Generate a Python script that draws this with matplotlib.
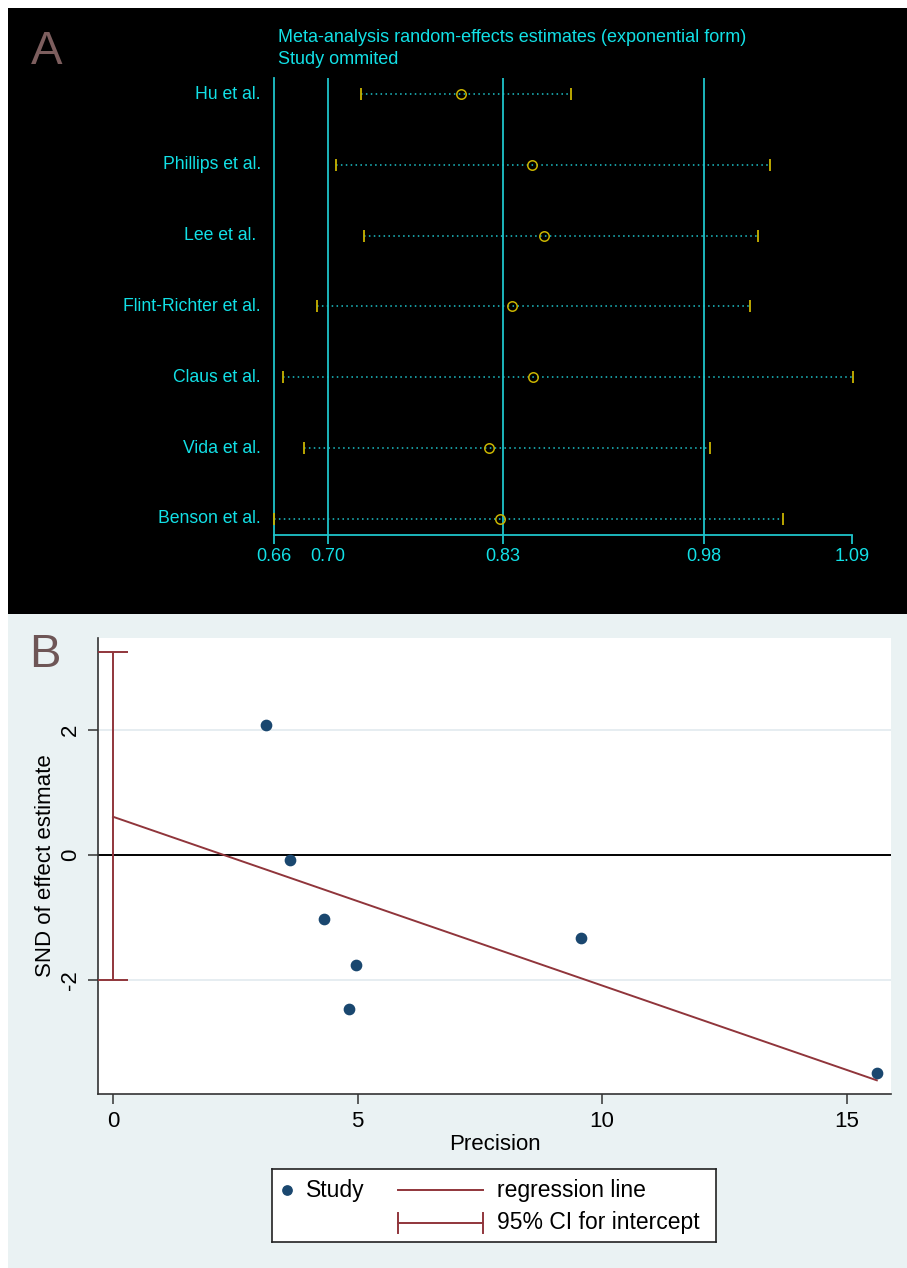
import numpy as np
import matplotlib.pyplot as plt
from matplotlib.patches import Rectangle
from matplotlib.lines import Line2D

plt.rcParams['font.family'] = ['Liberation Sans', 'DejaVu Sans']

# Panel A: leave-one-out estimates
studies = ['Hu et al.', 'Phillips et al.', 'Lee et al. ', 'Flint-Richter et al.',
           'Claus et al.', 'Vida et al.', 'Benson et al.']
est = [0.799, 0.852, 0.861, 0.837, 0.853, 0.820, 0.828]
lower = [0.725, 0.706, 0.727, 0.692, 0.667, 0.682, 0.660]
upper = [0.881, 1.029, 1.020, 1.014, 1.091, 0.984, 1.039]
a_ticks = [0.66, 0.70, 0.83, 0.98, 1.09]
a_ref_lines = [0.70, 0.83, 0.98]

# Panel B: Egger regression
precision = [3.13, 3.62, 4.31, 4.97, 4.83, 9.57, 15.62]
snd = [2.07, -0.08, -1.02, -1.75, -2.45, -1.32, -3.47]
intercept = 0.61
slope = -0.269
ci_low, ci_high = -1.99, 3.23
b_xticks = [0, 5, 10, 15]
b_yticks = [-2, 0, 2]

W, H = 907, 1268
fig = plt.figure(figsize=(W / 100, H / 100), dpi=100)
fig.patch.set_facecolor('white')

def box(l, t, r, b):
    # pixel box -> figure fraction rect
    return [l / W, 1 - b / H, (r - l) / W, (b - t) / H]

# backgrounds
fig.patches.append(Rectangle((8 / W, 1 - 614 / H), (W - 8) / W, (614 - 8) / H,
                             transform=fig.transFigure, facecolor='black', zorder=-10))
fig.patches.append(Rectangle((8 / W, 0), (W - 8) / W, 1 - 614 / H,
                             transform=fig.transFigure, facecolor='#eaf2f3', zorder=-10))

cyan_txt = '#12e0e6'
cyan_ln = '#1ec3ca'
yellow = '#c9b400'

# ---------------- Panel A ----------------
axA = fig.add_axes(box(274, 78, 852, 535))
axA.set_facecolor('none')
rows = np.arange(len(studies))
axA.set_xlim(0.66, 1.09)
axA.set_ylim(len(studies) - 1 + 0.226, -0.226)
for xv in a_ref_lines:
    axA.axvline(xv, color=cyan_ln, lw=1.3, zorder=1)
axA.hlines(rows, lower, upper, colors=cyan_ln, linestyles=(0, (1, 2.2)), lw=1.1, zorder=2)
axA.plot(lower, rows, ls='none', marker='|', ms=9, mew=1.3, color=yellow, zorder=3, clip_on=False)
axA.plot(upper, rows, ls='none', marker='|', ms=9, mew=1.3, color=yellow, zorder=3, clip_on=False)
axA.plot(est, rows, ls='none', marker='o', ms=6.8, mfc='none', mec=yellow, mew=1.1, zorder=4)
for r, name in zip(rows, studies):
    axA.text(0.6503, r, name, ha='right', va='center', color=cyan_txt, fontsize=12.7)
for s in ['top', 'right']:
    axA.spines[s].set_visible(False)
for s in ['left', 'bottom']:
    axA.spines[s].set_color(cyan_ln)
    axA.spines[s].set_linewidth(1.3)
axA.set_yticks([])
axA.set_xticks(a_ticks)
axA.set_xticklabels(['%.2f' % t for t in a_ticks])
axA.tick_params(axis='x', colors=cyan_ln, labelcolor=cyan_txt, length=6.5, width=1.3,
                labelsize=13, pad=3)
fig.text(278 / W, 1 - 37 / H, 'Meta-analysis random-effects estimates (exponential form)',
         color=cyan_txt, fontsize=13, va='center', ha='left')
fig.text(278 / W, 1 - 59 / H, 'Study ommited', color=cyan_txt, fontsize=13, va='center', ha='left')
fig.text(31 / W, 1 - 52 / H, 'A', color='#7d5e5e', fontsize=34, va='center', ha='left')

# ---------------- Panel B ----------------
axB = fig.add_axes(box(98, 638, 891, 1094))
axB.set_facecolor('white')
axB.set_xlim(-0.307, 15.91)
axB.set_ylim(-3.81, 3.46)
for yv in [-2, 2]:
    axB.axhline(yv, color='#e1eaef', lw=1.2, zorder=0)
axB.axhline(0, color='black', lw=1.4, zorder=1)
xl = np.array([0, max(precision)])
axB.plot(xl, intercept + slope * xl, color='#90353b', lw=1.4, zorder=2)
axB.errorbar([0], [(ci_low + ci_high) / 2], yerr=[[(ci_high - ci_low) / 2]], fmt='none',
             ecolor='#90353b', elinewidth=1.4, capsize=11, capthick=1.4, zorder=3)
axB.scatter(precision, snd, s=55, color='#1a476f', zorder=4, clip_on=False)
for s in ['top', 'right']:
    axB.spines[s].set_visible(False)
for s in ['left', 'bottom']:
    axB.spines[s].set_color('#333333')
    axB.spines[s].set_linewidth(1.2)
axB.set_xticks(b_xticks)
axB.set_yticks(b_yticks)
axB.set_yticklabels([str(t) for t in b_yticks], rotation=90, va='center')
axB.tick_params(colors='#333333', labelcolor='black', length=7, width=1.1, labelsize=16, pad=5)
axB.set_xlabel('Precision', fontsize=16, labelpad=2)
axB.set_ylabel('SND of effect estimate', fontsize=16, labelpad=3)
fig.text(29 / W, 1 - 655 / H, 'B', color='#6e5656', fontsize=34, va='center', ha='left')

# legend box
lax = fig.add_axes(box(272, 1169, 716, 1242))
lax.set_xlim(272, 716)
lax.set_ylim(1242, 1169)
lax.set_facecolor('white')
lax.set_xticks([])
lax.set_yticks([])
for s in lax.spines.values():
    s.set_color('#222222')
    s.set_linewidth(1.2)
lax.scatter([287], [1190], s=45, color='#1a476f')
lax.text(306, 1190, 'Study', fontsize=16.5, va='center', ha='left')
lax.add_line(Line2D([398, 483], [1190, 1190], color='#90353b', lw=1.4))
lax.text(497, 1190, 'regression line', fontsize=16.5, va='center', ha='left')
lax.add_line(Line2D([398, 483], [1223, 1223], color='#90353b', lw=1.4))
lax.add_line(Line2D([398, 398], [1213, 1233], color='#90353b', lw=1.4))
lax.add_line(Line2D([483, 483], [1213, 1233], color='#90353b', lw=1.4))
lax.text(497, 1223, '95% CI for intercept', fontsize=16.5, va='center', ha='left')

fig.savefig('out.png', dpi=100)
